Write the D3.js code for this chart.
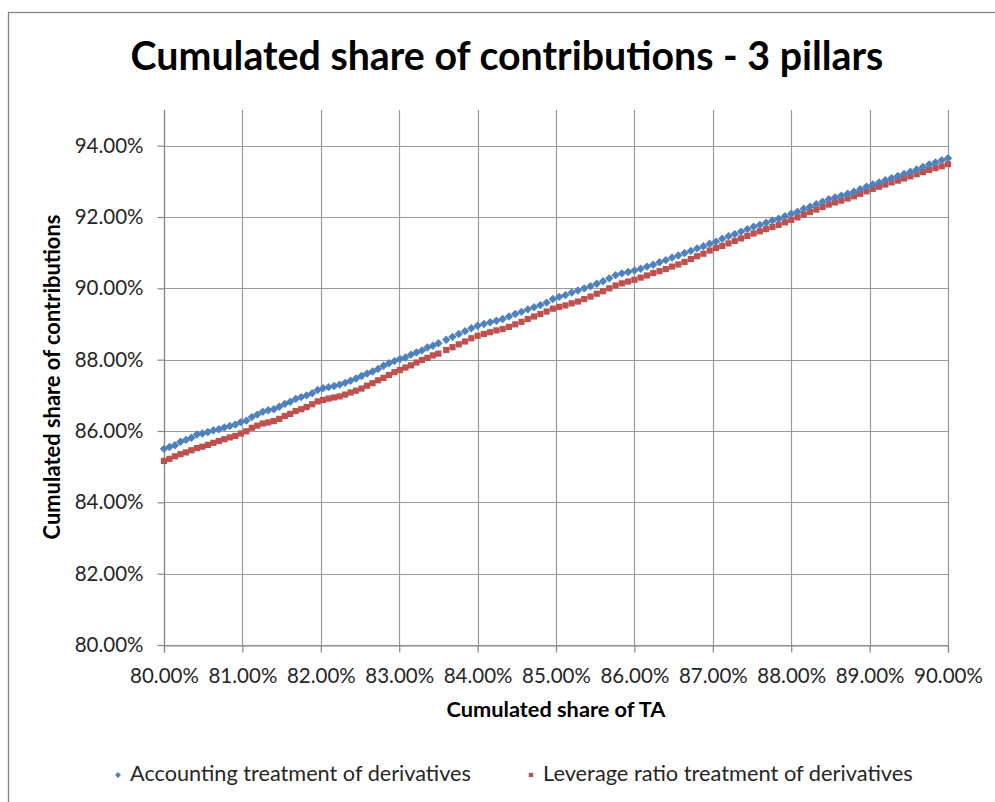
<!DOCTYPE html>
<html><head><meta charset="utf-8">
<script src="https://cdn.jsdelivr.net/npm/d3@7"></script>
<style>
html,body{margin:0;padding:0;background:#fff;}
svg{display:block;}
text{font-family:Lato,"Open Sans",sans-serif;}
</style></head>
<body>
<svg id="chart" width="995" height="802"></svg>
<script>
const title = "Cumulated share of contributions - 3 pillars";
const xTitle = "Cumulated share of TA";
const yTitle = "Cumulated share of contributions";
const seriesNames = ["Accounting treatment of derivatives", "Leverage ratio treatment of derivatives"];
const xTicks = [80,81,82,83,84,85,86,87,88,89,90];
const yTicks = [80,82,84,86,88,90,92,94];

const shareTA = [
80.00,80.07,80.14,80.21,80.28,80.35,80.42,80.49,80.56,80.63,80.70,80.77,80.84,80.91,80.98,
81.05,81.12,81.19,81.26,81.33,81.40,81.47,81.54,81.61,81.68,81.75,81.82,81.89,81.96,
82.03,82.10,82.17,82.24,82.31,82.38,82.45,82.52,82.59,82.66,82.73,82.80,82.87,82.94,
83.01,83.08,83.15,83.22,83.29,83.36,83.43,83.50,
83.60,83.68,83.76,83.84,83.92,84.00,84.08,84.16,84.24,84.32,84.40,84.48,84.56,84.64,84.72,84.80,84.88,84.96,
85.04,85.12,85.20,85.28,85.36,85.44,85.52,85.60,85.68,85.76,85.84,85.92,86.00,86.08,86.16,86.24,86.32,86.40,
86.48,86.56,86.64,86.72,86.80,86.88,86.96,87.04,87.12,87.20,87.28,87.36,87.44,87.52,87.60,87.68,87.76,87.84,
87.92,88.00,88.08,88.16,88.24,88.32,88.40,88.48,88.56,88.64,88.72,88.80,88.88,88.96,89.04,89.12,89.20,89.28,
89.36,89.44,89.52,89.60,89.68,89.76,89.84,89.92,90.00
];

const accounting = [
85.50,85.55,85.60,85.70,85.75,85.81,85.90,85.93,85.97,86.02,86.05,86.10,86.14,86.18,86.25,
86.29,86.39,86.46,86.54,86.58,86.61,86.68,86.76,86.82,86.90,86.95,87.00,87.06,87.15,
87.20,87.23,87.26,87.30,87.35,87.41,87.47,87.54,87.61,87.67,87.74,87.83,87.90,87.96,
88.02,88.06,88.14,88.20,88.26,88.34,88.39,88.46,
88.56,88.64,88.72,88.80,88.88,88.95,89.00,89.05,89.09,89.14,89.21,89.28,89.34,89.41,89.47,89.53,89.60,89.70,
89.76,89.81,89.88,89.94,90.00,90.06,90.13,90.20,90.28,90.37,90.42,90.46,90.50,90.55,90.61,90.66,90.73,90.79,
90.86,90.92,90.99,91.05,91.12,91.18,91.25,91.31,91.39,91.46,91.52,91.59,91.66,91.73,91.78,91.84,91.90,91.95,
92.02,92.09,92.15,92.23,92.29,92.36,92.43,92.50,92.55,92.60,92.65,92.71,92.78,92.85,92.91,92.97,93.03,93.09,
93.15,93.21,93.27,93.33,93.40,93.47,93.53,93.59,93.65
];

const leverage = [
85.16,85.22,85.29,85.35,85.40,85.46,85.52,85.56,85.61,85.67,85.72,85.77,85.82,85.86,85.93,
85.99,86.09,86.15,86.21,86.24,86.28,86.34,86.42,86.48,86.56,86.61,86.67,86.75,86.83,
86.87,86.91,86.94,86.97,87.02,87.08,87.13,87.19,87.27,87.34,87.42,87.49,87.57,87.65,
87.71,87.78,87.84,87.92,87.99,88.05,88.12,88.17,
88.27,88.35,88.43,88.51,88.60,88.67,88.72,88.77,88.82,88.86,88.92,88.99,89.06,89.14,89.21,89.28,89.35,89.43,
89.48,89.52,89.58,89.63,89.70,89.77,89.85,89.92,90.00,90.08,90.14,90.19,90.24,90.30,90.36,90.43,90.48,90.54,
90.61,90.67,90.74,90.82,90.90,90.97,91.06,91.13,91.19,91.26,91.33,91.40,91.47,91.54,91.60,91.66,91.72,91.78,
91.85,91.92,91.99,92.07,92.14,92.21,92.28,92.35,92.41,92.46,92.52,92.58,92.65,92.72,92.79,92.85,92.91,92.97,
93.02,93.08,93.14,93.20,93.26,93.32,93.37,93.42,93.48
];

const colors = ["#4F81BD", "#C0504D"];
const gridColor = "#9a9a9a";
const axisColor = "#868686";

const svg = d3.select("#chart");
const plot = {left:164, right:948, top:110, bottom:645};

const x = d3.scaleLinear().domain([80, 90]).range([plot.left, plot.right]);
const y = d3.scaleLinear().domain([80, 95]).range([plot.bottom, plot.top]);

function fit(sel, target) {
  const n = sel.node();
  const fs = parseFloat(sel.attr("font-size"));
  const w = n.getComputedTextLength();
  if (w > 0) sel.attr("font-size", (fs * target / w).toFixed(2));
  return sel;
}

// outer border
svg.append("rect").attr("x", 8.5).attr("y", 12.5).attr("width", 1000).attr("height", 1000)
  .attr("fill", "#fff").attr("stroke", axisColor).attr("stroke-width", 1.3);

// title
fit(svg.append("text").attr("x", 507).attr("y", 70).attr("text-anchor", "middle")
  .attr("font-weight", "bold").attr("font-size", 36).attr("fill", "#000").text(title), 753);

// gridlines
const g = svg.append("g");
g.selectAll(".vg").data(xTicks).join("line")
  .attr("x1", d => Math.round(x(d)) + 0.5).attr("x2", d => Math.round(x(d)) + 0.5)
  .attr("y1", plot.top).attr("y2", plot.bottom)
  .attr("stroke", gridColor).attr("stroke-width", 1.2);
g.selectAll(".hg").data(yTicks).join("line")
  .attr("x1", plot.left).attr("x2", plot.right)
  .attr("y1", d => Math.round(y(d)) + 0.5).attr("y2", d => Math.round(y(d)) + 0.5)
  .attr("stroke", gridColor).attr("stroke-width", 1.2);

// axes
const fmt = d => d.toFixed(2) + "%";
const xAxis = svg.append("g").attr("transform", `translate(0,${Math.round(y(80)) + 0.5})`)
  .call(d3.axisBottom(x).tickValues(xTicks).tickFormat(fmt).tickSize(7).tickPadding(16));
const yAxis = svg.append("g").attr("transform", `translate(${Math.round(x(80)) + 0.5},0)`)
  .call(d3.axisLeft(y).tickValues(yTicks).tickFormat(fmt).tickSize(7).tickPadding(14));
[xAxis, yAxis].forEach(a => {
  a.select(".domain").attr("stroke", axisColor).attr("stroke-width", 1.2);
  a.selectAll(".tick line").attr("stroke", axisColor).attr("stroke-width", 1.2);
  a.selectAll("text").attr("font-family", "Lato, 'Open Sans', sans-serif")
    .attr("font-size", 20.5).attr("fill", "#262626");
});
yAxis.select(".domain").attr("d", `M0,${plot.top}V${plot.bottom}`);
xAxis.selectAll("text").attr("dy", "0.72em");

// axis titles
fit(svg.append("text").attr("x", 556).attr("y", 717).attr("text-anchor", "middle")
  .attr("font-weight", "bold").attr("font-size", 18).attr("fill", "#000").text(xTitle), 219);
fit(svg.append("text").attr("transform", "translate(60,377) rotate(-90)").attr("text-anchor", "middle")
  .attr("font-weight", "bold").attr("font-size", 17).attr("fill", "#000").text(yTitle), 325);

// markers
const diamond = "M0,-4.2L4.2,0L0,4.2L-4.2,0Z";
const square = "M-3.1,-3.1H3.1V3.1H-3.1Z";
const ptsA = shareTA.map((v, i) => [v, accounting[i]]);
const ptsL = shareTA.map((v, i) => [v, leverage[i]]);
svg.append("g").selectAll("path").data(ptsL).join("path")
  .attr("d", square).attr("fill", colors[1])
  .attr("transform", d => `translate(${x(d[0])},${y(d[1])})`);
svg.append("g").selectAll("path").data(ptsA).join("path")
  .attr("d", diamond).attr("fill", colors[0])
  .attr("transform", d => `translate(${x(d[0])},${y(d[1])})`);

// legend
const legend = [
  {name: seriesNames[0], color: colors[0], shape: diamond, mx: 118, tx: 130, w: 341},
  {name: seriesNames[1], color: colors[1], shape: square, mx: 531, tx: 543, w: 370}
];
legend.forEach(l => {
  svg.append("path").attr("d", l.shape).attr("fill", l.color)
    .attr("transform", `translate(${l.mx},775) scale(0.7)`);
  fit(svg.append("text").attr("x", l.tx).attr("y", 781).attr("font-size", 18)
    .attr("fill", "#262626").text(l.name), l.w);
});
</script>
</body></html>
